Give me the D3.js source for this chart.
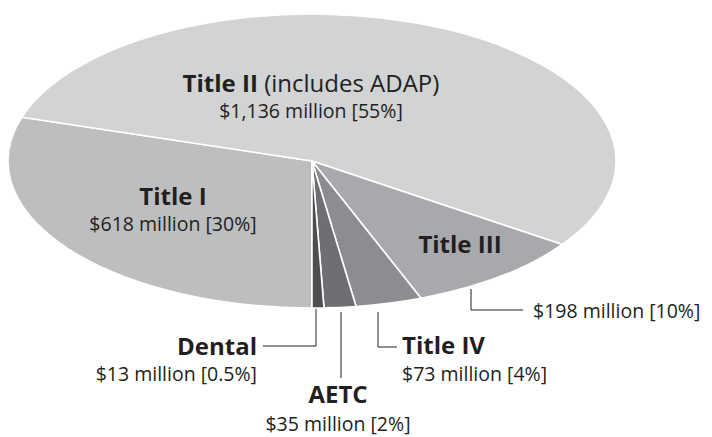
<!DOCTYPE html>
<html lang="en">
<head>
  <meta charset="UTF-8">
  <title>Ryan White funding</title>
  <style>
    body { margin: 0; background: #fff; }
    text { font-family: "Open Sans", sans-serif; fill: #231f20; }
    .name { font-weight: 700; font-size: 24px; }
    .value { font-size: 19.5px; }
  </style>
</head>
<body>
  <script src="https://d3js.org/d3.v7.min.js"></script>
  <div id="chart"></div>

  <script>
    // data, in drawing order (clockwise, starting straight down)
    const programs = ['Title I', 'Title II', 'Title III', 'Title IV', 'AETC', 'Dental']
    const millions = [618, 1136, 198, 73, 35, 13]
    const shares = ['30%', '55%', '10%', '4%', '2%', '0.5%']
    const colors = ['#bcbec0', '#d1d3d4', '#a7a9ac', '#8c8d90', '#6e6f72', '#4d4e50']

    const W = 712, H = 437
    const cx = 312, cy = 161, rx = 304, ry = 147

    const svg = d3.select('#chart')
      .append('svg')
      .attr('width', W)
      .attr('height', H)

    const data = programs.map((p, i) => ({ name: p, value: millions[i], share: shares[i], color: colors[i] }))

    const pie = d3.pie()
      .sort(null)
      .value(d => d.value)
      .startAngle(Math.PI)
      .endAngle(3 * Math.PI)

    const arc = d3.arc()
      .innerRadius(0)
      .outerRadius(rx)

    const arcs = pie(data)

    svg.append('g')
      .attr('transform', `translate(${cx},${cy}) scale(1,${ry / rx})`)
      .selectAll('path')
      .data(arcs)
      .join('path')
      .attr('d', arc)
      .attr('fill', d => d.data.color)
      .attr('stroke', '#fff')
      .attr('stroke-width', 1.6)
      .attr('vector-effect', 'non-scaling-stroke')

    const fmt = v => '$' + d3.format(',')(v) + ' million ['

    // label layout: x, y of name baseline, anchor, and optional leader polyline
    const labels = {
      'Title II': { x: 311, y: 92, vy: 118, anchor: 'middle', extra: ' (includes ADAP)' },
      'Title I': { x: 173, y: 205, vy: 231, anchor: 'middle' },
      'Title III': { x: 460, y: 253, anchor: 'middle', vx: 533, vy: 318, vAnchor: 'start',
        leader: [[471, 289], [471, 310], [523, 310]] },
      'Title IV': { x: 402, y: 354, vy: 381, anchor: 'start',
        leader: [[378, 312], [378, 347], [397, 347]] },
      'AETC': { x: 338, y: 403, vy: 431, anchor: 'middle',
        leader: [[341, 312], [341, 378]] },
      'Dental': { x: 257, y: 355, vy: 381, anchor: 'end',
        leader: [[316, 309], [316, 346], [263, 346]] }
    }

    const lab = svg.append('g')

    data.forEach(d => {
      const L = labels[d.name]
      const t = lab.append('text')
        .attr('class', 'name')
        .attr('x', L.x)
        .attr('y', L.y)
        .attr('text-anchor', L.anchor)
      t.append('tspan').text(d.name)
      if (L.extra) t.append('tspan').attr('font-weight', 400).text(L.extra)

      lab.append('text')
        .attr('class', 'value')
        .attr('x', L.vx != null ? L.vx : L.x)
        .attr('y', L.vy)
        .attr('text-anchor', L.vAnchor || L.anchor)
        .text(fmt(d.value) + d.share + ']')

      if (L.leader) {
        lab.append('path')
          .attr('d', d3.line()(L.leader))
          .attr('fill', 'none')
          .attr('stroke', '#231f20')
          .attr('stroke-width', 1)
      }
    })
  </script>
</body>
</html>
